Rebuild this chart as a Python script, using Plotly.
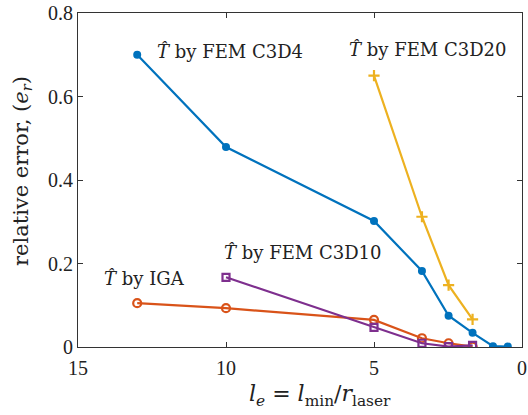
import plotly.graph_objects as go

# Data
c3d4_x = [13, 10, 5, 3.38, 2.48, 1.67, 0.98, 0.48]
c3d4_y = [0.700, 0.479, 0.302, 0.182, 0.075, 0.034, 0.002, 0.001]

c3d20_x = [5, 3.38, 2.48, 1.67]
c3d20_y = [0.650, 0.312, 0.148, 0.066]

iga_x = [13, 10, 5, 3.38, 2.48, 1.67]
iga_y = [0.105, 0.093, 0.065, 0.021, 0.009, 0.001]

c3d10_x = [10, 5, 3.38, 2.48, 1.67]
c3d10_y = [0.167, 0.047, 0.009, 0.001, 0.004]

x_ticks = [15, 10, 5, 0]
y_ticks = [0, 0.2, 0.4, 0.6, 0.8]
y_tick_labels = ["0", "0.2", "0.4", "0.6", "0.8"]

labels = ["<i>T̂</i> by FEM C3D4", "<i>T̂</i> by FEM C3D20",
          "<i>T̂</i> by FEM C3D10", "<i>T̂</i> by IGA"]
label_x = [12.4, 5.9, 10.15, 14.2]
label_y = [0.707, 0.712, 0.226, 0.164]

BLUE = "#0072BD"
ORANGE = "#D95319"
YELLOW = "#EDB120"
PURPLE = "#7E2F8E"
FONT = "Liberation Serif, DejaVu Serif, serif"
WFONT = "DejaVu Serif, Liberation Serif, serif"

fig = go.Figure()
fig.add_trace(go.Scatter(x=c3d4_x, y=c3d4_y, mode="lines+markers",
                         line=dict(color=BLUE, width=2.2),
                         marker=dict(symbol="circle", size=8, color=BLUE)))
fig.add_trace(go.Scatter(x=c3d20_x, y=c3d20_y, mode="lines+markers",
                         line=dict(color=YELLOW, width=2.2),
                         marker=dict(symbol="cross-thin", size=8,
                                     line=dict(color=YELLOW, width=2.2))))
fig.add_trace(go.Scatter(x=iga_x, y=iga_y, mode="lines+markers",
                         line=dict(color=ORANGE, width=2.2),
                         marker=dict(symbol="circle-open", size=8,
                                     line=dict(color=ORANGE, width=2.2))))
fig.add_trace(go.Scatter(x=c3d10_x, y=c3d10_y, mode="lines+markers",
                         line=dict(color=PURPLE, width=2.2),
                         marker=dict(symbol="square-open", size=7,
                                     line=dict(color=PURPLE, width=2.2))))

for t, xx, yy in zip(labels, label_x, label_y):
    fig.add_annotation(x=xx, y=yy, text=t, showarrow=False, xanchor="left",
                       yanchor="middle", font=dict(family=WFONT, size=18, color="#222"))

# axis titles (positions given in figure pixels)
fig.add_annotation(x=320, y=395, xref="paper", yref="paper", text=
                   "<i>l<sub>e</sub></i> = <i>l</i><sub>min</sub>/<i>r</i><sub>laser</sub>",
                   showarrow=False, font=dict(family=WFONT, size=22, color="#222"))
fig.add_annotation(x=22, y=171, xref="paper", yref="paper", textangle=-90,
                   text="relative error, (<i>e<sub>r</sub></i>)",
                   showarrow=False, font=dict(family=WFONT, size=21, color="#222"))

axis_common = dict(showgrid=False, zeroline=False, showline=True, linecolor="#333",
                   linewidth=1, mirror="ticks", ticks="inside", ticklen=5,
                   tickcolor="#333", automargin=False, ticklabeloverflow="allow",
                   tickfont=dict(family=FONT, size=20, color="#222"))

fig.update_xaxes(range=[15, 0], tickvals=x_ticks, ticktext=[str(v) for v in x_ticks],
                 ticklabelstandoff=3, **axis_common)
fig.update_yaxes(range=[0, 0.8], tickvals=y_ticks, ticktext=y_tick_labels,
                 **axis_common)

W, H = 528, 415
L, R, T, B = 78, 6, 13, 68
fig.update_layout(width=W, height=H, showlegend=False,
                  plot_bgcolor="white", paper_bgcolor="white",
                  margin=dict(l=L, r=R, t=T, b=B))

pw, ph = W - L - R, H - T - B
for a in fig.layout.annotations:
    if a.xref == "paper":
        a.x = (a.x - L) / pw
        a.y = (H - B - a.y) / ph
        a.xanchor = "center"
        a.yanchor = "middle"

fig.write_html("out.html", config={"displayModeBar": False},
               post_script="document.documentElement.style.overflow='hidden';"
                           "document.body.style.margin='0';"
                           "document.body.style.overflow='hidden';")
